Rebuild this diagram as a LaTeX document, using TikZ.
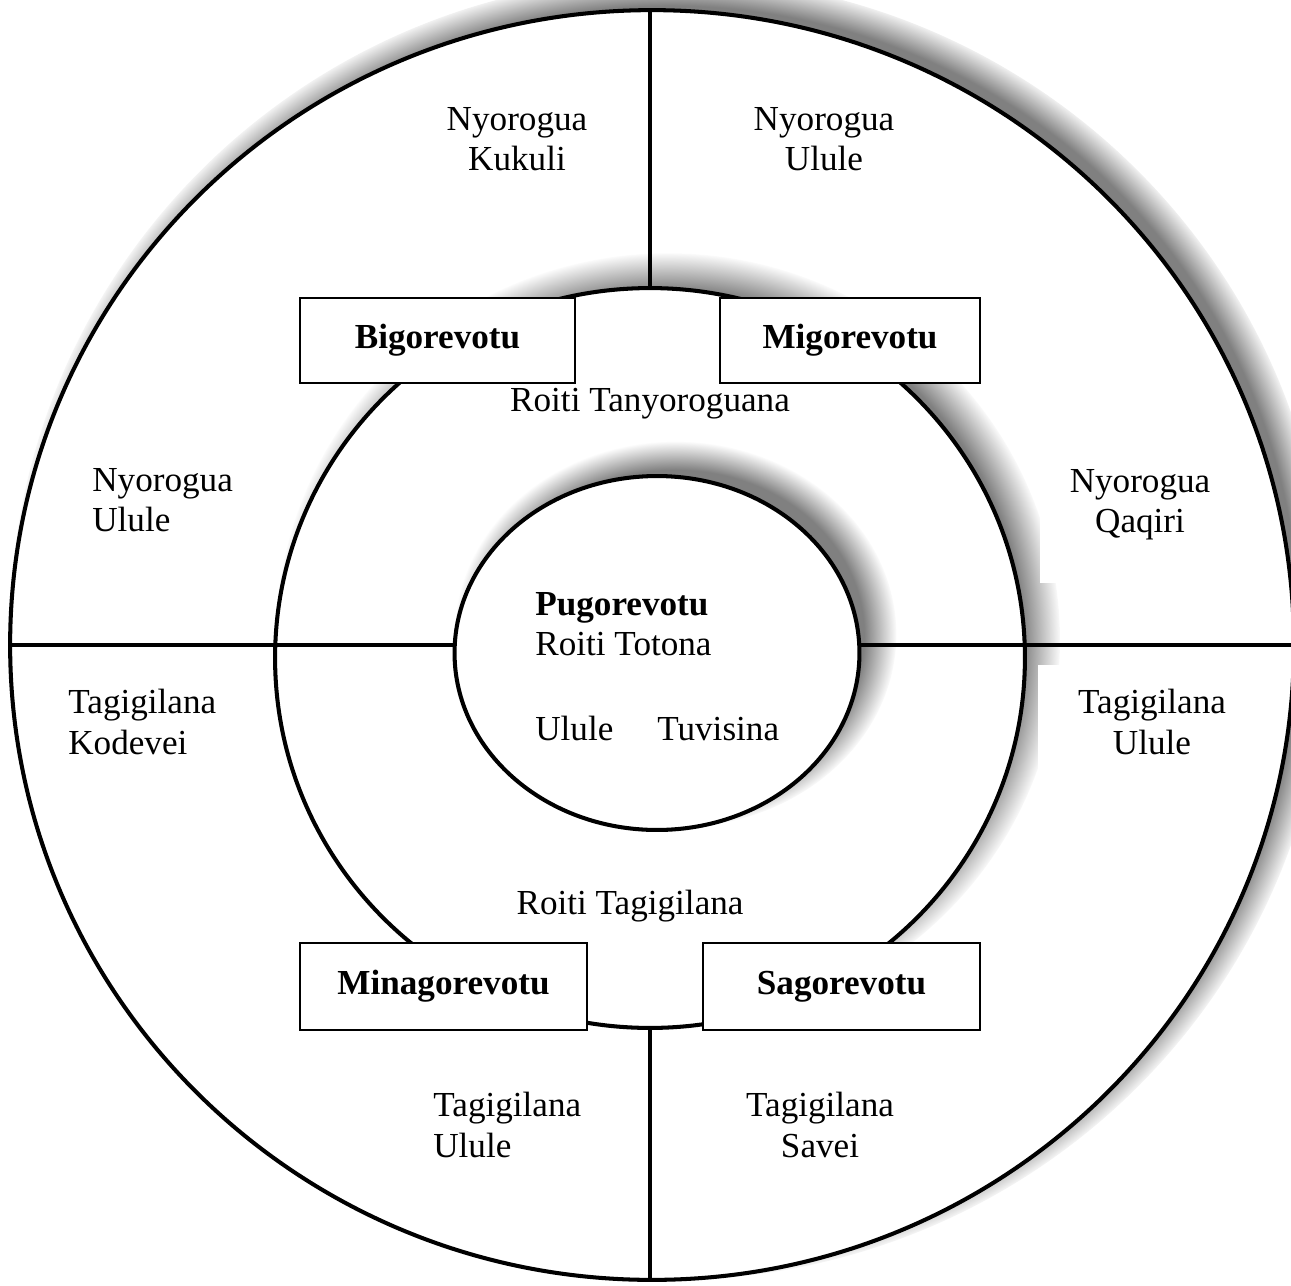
\documentclass[tikz,border=0pt]{standalone}
\usepackage{fontspec}
\setmainfont{Liberation Serif}
\usepackage{tikz}
\usetikzlibrary{positioning,shapes.geometric,shadows,fadings}
% soft edges for the ring shadows (white = opaque, black = clear)
\pgfdeclareradialshading{edge5}{\pgfpointorigin}{color(0bp)=(white); color(23.75bp)=(white); color(25bp)=(black); color(50bp)=(black)}
\pgfdeclarefading{fuzzy edge 5}{\pgfuseshading{edge5}}
\pgfdeclareradialshading{edge10}{\pgfpointorigin}{color(0bp)=(white); color(22.5bp)=(white); color(25bp)=(black); color(50bp)=(black)}
\pgfdeclarefading{fuzzy edge 10}{\pgfuseshading{edge10}}
\pgfdeclareradialshading{edge15}{\pgfpointorigin}{color(0bp)=(white); color(21.25bp)=(white); color(25bp)=(black); color(50bp)=(black)}
\pgfdeclarefading{fuzzy edge 15}{\pgfuseshading{edge15}}
\tikzstyle{ring}      = [ellipse, draw=black, line width=2.3pt, fill=white, inner sep=0pt]
\tikzstyle{shade}     = [fill=black!50, shadow xshift=0.34cm, shadow yshift=0.34cm]
\tikzstyle{clan}      = [rectangle, draw=black, line width=1.3pt, fill=white, inner sep=0pt, font=\fontsize{20}{23}\selectfont\bfseries]
\tikzstyle{place}     = [inner sep=0pt, font=\fontsize{20}{23}\selectfont]
\tikzstyle{divider}   = [line width=2.3pt]

\begin{document}
\begin{tikzpicture}[x=0.02cm, y=-0.02cm]
		\useasboundingbox (0,0) rectangle (1291,1285);

		% the three rings
		\node[ring, general shadow={shade, shadow scale=1.027, path fading=fuzzy edge 5}, minimum width=25.68cm, minimum height=25.4cm] (outer) at (652,645) {};
		\node[ring, general shadow={shade, shadow scale=1.046, path fading=fuzzy edge 10}, minimum width=15cm, minimum height=14.8cm] (middle) at (650,658) {};
		\node[ring, general shadow={shade, shadow scale=1.09, path fading=fuzzy edge 15}, minimum width=8.1cm, minimum height=7.08cm] (inner) at (657,653) {};

		% dividing lines
		\draw[divider] (middle.north) -- (middle.north |- outer.north);
		\draw[divider] (middle.south) -- (middle.south |- outer.south);
		\draw[divider] (outer.west) -- (outer.west -| inner.west);
		\draw[divider] (outer.east -| inner.east) -- (outer.east);

		% outer ring
		\node[place, align=center] (kukuli) at (517,139) {Nyorogua\\Kukuli};
		\node[place, align=center] (nululeE) at (824,139) {Nyorogua\\Ulule};
		\node[place, align=left, anchor=west] (nululeW) at (92,500) {Nyorogua\\Ulule};
		\node[place, align=center, fill=white, minimum width=4cm, minimum height=3.12cm] (qaqiri) at (1140,505) {Nyorogua\\Qaqiri};
		\node[place, align=left, anchor=west] (kodevei) at (68,722) {Tagigilana\\Kodevei};
		\node[place, align=center, fill=white, minimum width=4.56cm, minimum height=2.28cm] (tululeE) at (1152,722) {Tagigilana\\Ulule};
		\node[place, align=left, anchor=west] (tululeS) at (433,1125) {Tagigilana\\Ulule};
		\node[place, align=center] (savei) at (820,1125) {Tagigilana\\Savei};

		% middle ring
		\node[place] (tanyo) at (650,404) {Roiti Tanyoroguana};
		\node[place] (tagi) at (630,906) {Roiti Tagigilana};

		% centre
		\node[place, align=left, anchor=west] (pugo) at (535,624) {\textbf{Pugorevotu}\\Roiti Totona};
		\node[place, anchor=west] (tuvisina) at (535,728) {Ulule\hspace{1em} Tuvisina};

		% clan boxes
		\node[clan, minimum width=5.5cm, minimum height=1.7cm] (bigo) at (437.5,340.5) {Bigorevotu};
		\node[clan, minimum width=5.2cm, minimum height=1.7cm] (migo) at (850,340.5) {Migorevotu};
		\node[clan, minimum width=5.74cm, minimum height=1.74cm] (minago) at (443.5,986.5) {Minagorevotu};
		\node[clan, minimum width=5.54cm, minimum height=1.74cm] (sago) at (841.5,986.5) {Sagorevotu};
	\end{tikzpicture}
\end{document}
